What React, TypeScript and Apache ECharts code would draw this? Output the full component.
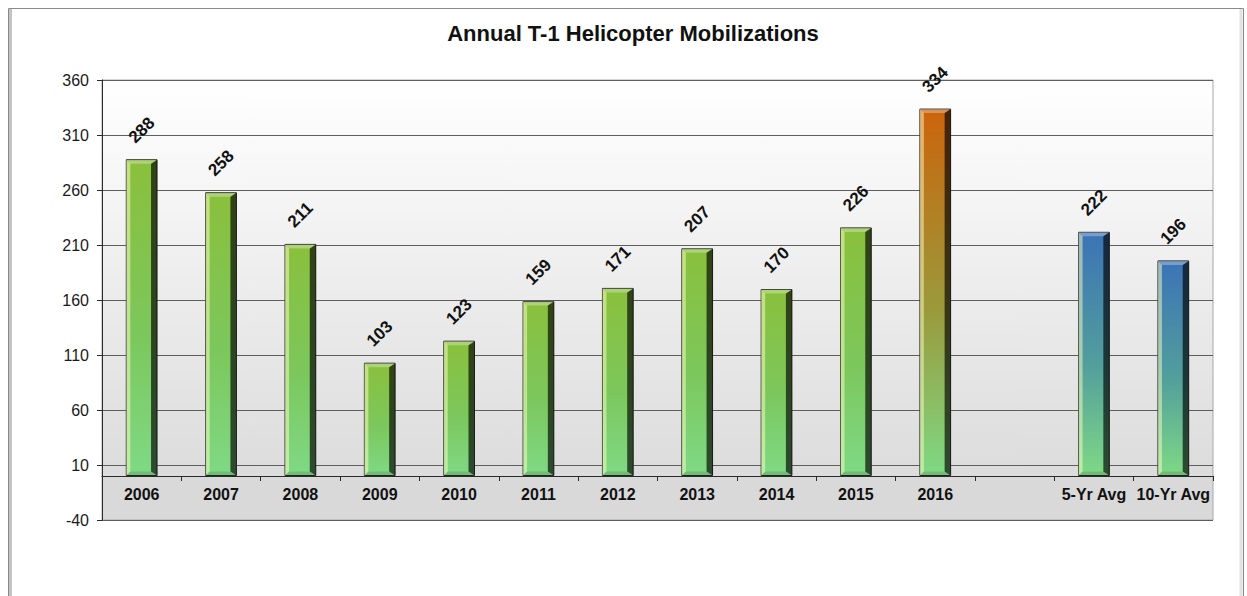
import React, { useEffect, useRef } from "react";
import * as echarts from "echarts";

const titleText = "Annual T-1 Helicopter Mobilizations";
const categories = ["2006", "2007", "2008", "2009", "2010", "2011", "2012", "2013", "2014", "2015", "2016", "", "5-Yr Avg", "10-Yr Avg"];
const values: (number | null)[] = [288, 258, 211, 103, 123, 159, 171, 207, 170, 226, 334, null, 222, 196];
const groups = ["year", "year", "year", "year", "year", "year", "year", "year", "year", "year", "current", "none", "avg", "avg"];
const yMin = -40;
const yMax = 360;
const yInterval = 50;

const palette: Record<string, string[]> = {
  year: ["#8ac03c", "#7cc75c", "#7fd985"],
  current: ["#cc640c", "#9a9a3c", "#7fd985"],
  avg: ["#3b73b6", "#529f9c", "#7fd985"],
  none: ["#ffffff", "#ffffff", "#ffffff"],
};

const FONT = "'Liberation Sans', Arial, Helvetica, sans-serif";
const GRID_TOP = 80;
const GRID_HEIGHT = 440;

function vGrad(c: string[]) {
  return new echarts.graphic.LinearGradient(0, 0, 0, 1, [
    { offset: 0, color: c[0] },
    { offset: 0.55, color: c[1] },
    { offset: 1, color: c[2] },
  ]);
}

export default function App() {
  const ref = useRef<HTMLDivElement>(null);
  useEffect(() => {
    if (!ref.current) return;
    const chart = echarts.init(ref.current, null, { renderer: "svg" });
    const zeroOffset = yMax / (yMax - yMin);
    // move the category axis from the grid bottom up to the zero line
    const axisShift = -((0 - yMin) / (yMax - yMin)) * GRID_HEIGHT;

    const barData = values.map((v, i) =>
      v == null ? "-" : { value: v, itemStyle: { color: vGrad(palette[groups[i]]) } }
    );
    const bevelData = values
      .map((v, i) => (v == null ? null : [i, v]))
      .filter((d) => d !== null);

    const option: any = {
      animation: false,
      backgroundColor: "#ffffff",
      title: {
        text: titleText,
        left: 628,
        top: 17,
        textAlign: "center",
        textStyle: { fontFamily: FONT, fontSize: 22, fontWeight: "bold", color: "#111" },
      },
      graphic: [
        {
          type: "rect",
          shape: { x: 8.5, y: 8.5, width: 1235, height: 600 },
          style: { fill: "none", stroke: "#8a8a8a", lineWidth: 1 },
          silent: true,
          z: 0,
        },
        {
          type: "line",
          shape: { x1: 10.5, y1: 9, x2: 10.5, y2: 600 },
          style: { stroke: "#c4c4c4", lineWidth: 3 },
          silent: true,
        },
        {
          type: "line",
          shape: { x1: 1241, y1: 9, x2: 1241, y2: 600 },
          style: { stroke: "#e2e2e2", lineWidth: 3 },
          silent: true,
        },
      ],
      grid: {
        left: 102,
        top: GRID_TOP,
        width: 1111,
        height: GRID_HEIGHT,
        show: true,
        borderColor: "#a8a8a8",
        borderWidth: 1,
        backgroundColor: new echarts.graphic.LinearGradient(0, 0, 0, 1, [
          { offset: 0, color: "#ffffff" },
          { offset: zeroOffset, color: "#dcdcdc" },
          { offset: zeroOffset, color: "#d9d9d9" },
          { offset: 1, color: "#d9d9d9" },
        ]),
      },
      xAxis: {
        type: "category",
        data: categories,
        offset: axisShift,
        axisLine: { show: true, onZero: false, lineStyle: { color: "#2a2a2a", width: 1 } },
        axisTick: { show: true, interval: 0, length: 5, lineStyle: { color: "#2a2a2a" } },
        axisLabel: {
          interval: 0,
          margin: 10,
          fontFamily: FONT,
          fontSize: 16,
          fontWeight: "bold",
          color: "#111",
        },
        splitLine: { show: false },
      },
      yAxis: {
        type: "value",
        min: yMin,
        max: yMax,
        interval: yInterval,
        axisLine: { show: true, lineStyle: { color: "#2a2a2a" } },
        axisTick: { show: true, length: 5, lineStyle: { color: "#2a2a2a" } },
        axisLabel: { margin: 13, fontFamily: FONT, fontSize: 16, color: "#1a1a1a" },
        splitLine: { show: true, lineStyle: { color: "#5e5e5e", width: 1 } },
      },
      series: [
        {
          type: "bar",
          data: barData,
          barWidth: "40%",
          itemStyle: { borderColor: "#262626", borderWidth: 1 },
          label: {
            show: true,
            position: "top",
            distance: 29,
            rotate: 45,
            align: "center",
            verticalAlign: "middle",
            fontFamily: FONT,
            fontSize: 17,
            fontWeight: "bold",
            color: "#111",
          },
          z: 3,
        },
        {
          type: "custom",
          data: bevelData,
          encode: { x: 0, y: 1 },
          silent: true,
          z: 4,
          renderItem: (params: any, api: any) => {
            const idx = api.value(0);
            const val = api.value(1);
            const top = api.coord([idx, val]);
            const bot = api.coord([idx, 0]);
            const bw = api.size([1, 0])[0] * 0.4;
            const x0 = top[0] - bw / 2 + 0.5;
            const x1 = top[0] + bw / 2 - 0.5;
            const y0 = top[1] + 0.5;
            const y1 = bot[1] - 0.5;
            const b = 4;
            const br = 6;
            return {
              type: "group",
              children: [
                {
                  type: "polygon",
                  shape: { points: [[x0, y0], [x0 + b, y0 + b], [x0 + b, y1 - b], [x0, y1]] },
                  style: { fill: "rgba(255,255,200,0.5)" },
                },
                {
                  type: "polygon",
                  shape: { points: [[x1, y0], [x1 - br, y0 + b], [x1 - br, y1 - b], [x1, y1]] },
                  style: { fill: "rgba(0,0,0,0.65)" },
                },
                {
                  type: "polygon",
                  shape: { points: [[x0, y0], [x1, y0], [x1 - br, y0 + b], [x0 + b, y0 + b]] },
                  style: { fill: "rgba(255,255,255,0.3)" },
                },
                {
                  type: "polygon",
                  shape: { points: [[x0, y1], [x1, y1], [x1 - br, y1 - b], [x0 + b, y1 - b]] },
                  style: { fill: "rgba(0,0,0,0.12)" },
                },
              ],
            };
          },
        },
      ],
    };
    chart.setOption(option);
    return () => chart.dispose();
  }, []);
  return (
    <div
      ref={ref}
      style={{ position: "absolute", left: 0, top: 0, width: 1247, height: 596 }}
    />
  );
}
